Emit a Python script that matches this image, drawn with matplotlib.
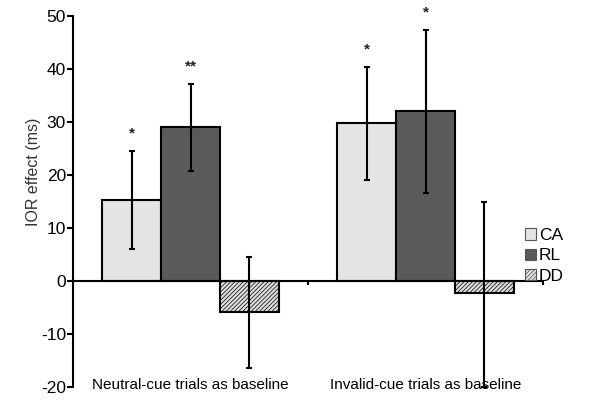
import matplotlib
matplotlib.use("Agg")
import matplotlib.pyplot as plt
from matplotlib.patches import Patch

plt.rcParams['font.family'] = ['Liberation Sans', 'DejaVu Sans']
plt.rcParams['hatch.color'] = '#808080'
plt.rcParams['hatch.linewidth'] = 0.5

groups = ["Neutral-cue trials as baseline", "Invalid-cue trials as baseline"]
series = ["CA", "RL", "DD"]
values = {"CA": [15.3, 29.8], "RL": [29.0, 32.0], "DD": [-5.9, -2.3]}
err_low = {"CA": [6.0, 19.0], "RL": [20.7, 16.7], "DD": [-16.5, -20.0]}
err_high = {"CA": [24.5, 40.4], "RL": [37.2, 47.3], "DD": [4.6, 15.0]}
stars = {"CA": ["*", "*"], "RL": ["**", "*"], "DD": ["", ""]}
yticks = [-20, -10, 0, 10, 20, 30, 40, 50]

colors = {"CA": "#e4e4e4", "RL": "#5a5a5a", "DD": "#dedede"}
hatches = {"CA": None, "RL": None, "DD": "////////"}

fig = plt.figure(figsize=(6.01, 4.03), dpi=100)
ax = fig.add_axes([0.1215, 0.0397, 0.782, 0.9205])

width = 0.25
for i, s in enumerate(series):
    xs = [g + 0.25 + i * width for g in range(len(groups))]
    ax.bar(xs, values[s], width=width, color=colors[s], edgecolor='black',
           linewidth=1.5, hatch=hatches[s], zorder=2)
    for x, v, lo, hi, st in zip(xs, values[s], err_low[s], err_high[s], stars[s]):
        ax.errorbar(x, v, yerr=[[v - lo], [hi - v]], fmt='none', ecolor='black',
                    elinewidth=1.5, capsize=2, capthick=1.5, zorder=3)
        if st:
            ax.text(x, hi + 2.0, st, ha='center', va='bottom', fontsize=11,
                    fontweight='bold', color='#222222')

for gi, g in enumerate(groups):
    ax.text(gi + 0.5, -19.6, g, ha='center', va='center', fontsize=11)

ax.set_xlim(0, 2)
ax.set_ylim(-20, 50)
ax.set_yticks(yticks)
ax.set_yticklabels([str(t) for t in yticks], fontsize=12.5)
ax.set_xticks([1, 2])
ax.set_xticklabels([])
ax.spines['top'].set_visible(False)
ax.spines['right'].set_visible(False)
ax.spines['bottom'].set_position(('data', 0))
ax.spines['left'].set_linewidth(1.5)
ax.spines['bottom'].set_linewidth(1.5)
ax.tick_params(axis='y', direction='out', length=4, width=1.5, pad=1)
ax.tick_params(axis='x', direction='out', length=3, width=1.5)
ax.set_ylabel("IOR effect (ms)", fontsize=11.5, color='#333333')
ax.yaxis.set_label_coords(-0.068, 0.58)

handles = [Patch(facecolor=colors[s], edgecolor='#555555', hatch=hatches[s], linewidth=0.8)
           for s in series]
fig.legend(handles, series, loc='center left', bbox_to_anchor=(0.862, 0.365),
           frameon=False, fontsize=12.5, handlelength=0.65, handleheight=0.65,
           handletextpad=0.15, labelspacing=0.3, borderaxespad=0)

fig.savefig("out.png", dpi=100)
